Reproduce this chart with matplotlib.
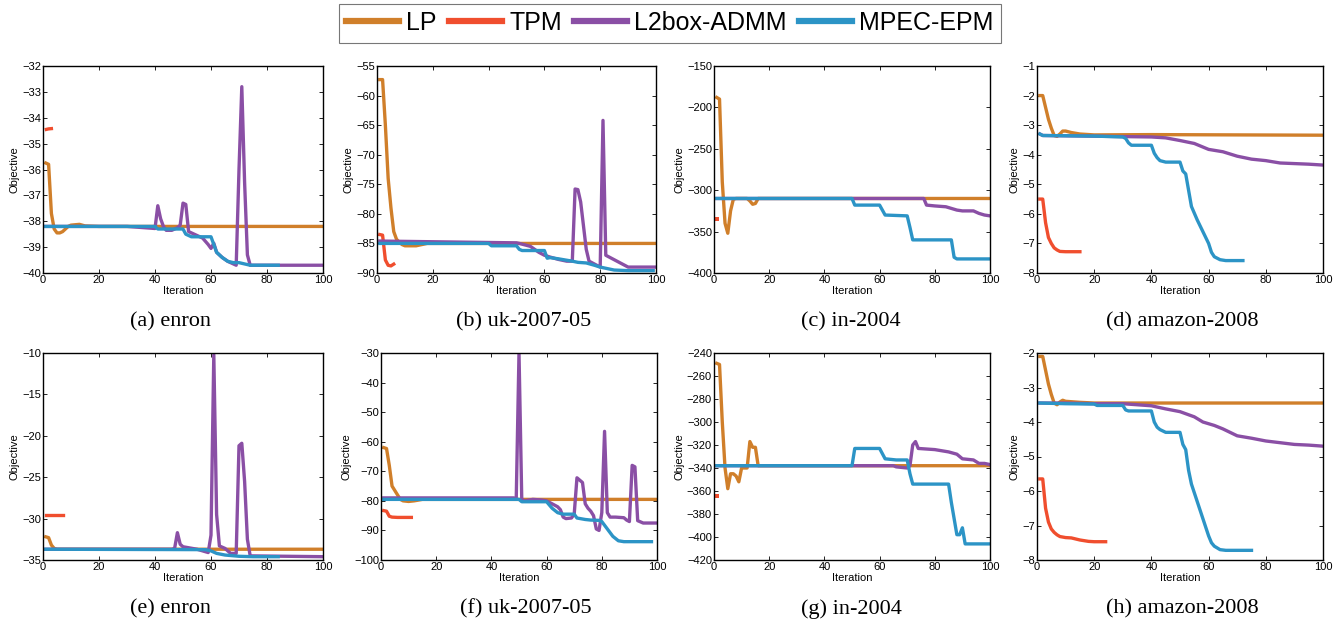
import matplotlib
matplotlib.use("Agg")
import matplotlib.pyplot as plt
from matplotlib.lines import Line2D

plt.rcParams['font.family'] = ['Liberation Sans', 'DejaVu Sans']

# ---------------- data ----------------
series_names = ["LP", "TPM", "L2box-ADMM", "MPEC-EPM"]
series_colors = ["#D07F2A", "#F04E2E", "#8A4FA5", "#2C94C6"]
captions = ["(a) enron", "(b) uk-2007-05", "(c) in-2004", "(d) amazon-2008",
            "(e) enron", "(f) uk-2007-05", "(g) in-2004", "(h) amazon-2008"]
ylims = [(-40, -32), (-90, -55), (-400, -150), (-8, -1),
         (-35, -10), (-100, -30), (-420, -240), (-8, -2)]
xticks = [0, 20, 40, 60, 80, 100]

# (a) enron
a_lp_x = [1, 2, 3, 4, 5, 6, 7, 8, 9, 10, 13, 15, 20, 100]
a_lp_y = [-35.75, -35.8, -37.7, -38.3, -38.45, -38.45, -38.4, -38.3, -38.2, -38.15, -38.12, -38.18, -38.2, -38.2]
a_tpm_x = [1.2, 2, 3]
a_tpm_y = [-34.45, -34.43, -34.42]
a_l2_x = [1, 30, 40, 41, 42, 43, 44, 46, 48, 49, 50, 51, 52, 53, 55, 57, 59, 60, 61, 62, 64, 66, 68, 69, 70, 71, 72, 73, 74, 100]
a_l2_y = [-38.2, -38.2, -38.28, -37.4, -37.9, -38.2, -38.35, -38.35, -38.25, -38.15, -37.3, -37.35, -38.4, -38.45, -38.55, -38.65, -38.9, -39.05, -38.85, -39.2, -39.4, -39.55, -39.65, -39.7, -36.0, -32.8, -36.5, -39.3, -39.7, -39.7]
a_mp_x = [1, 40, 41, 50, 51, 52, 53, 60, 61, 62, 64, 66, 68, 70, 72, 74, 84]
a_mp_y = [-38.2, -38.2, -38.3, -38.3, -38.5, -38.55, -38.6, -38.6, -38.9, -39.2, -39.4, -39.55, -39.6, -39.6, -39.65, -39.7, -39.7]

# (b) uk-2007-05
b_lp_x = [1, 2, 3, 4, 5, 6, 7, 8, 9, 10, 12, 14, 16, 18, 100]
b_lp_y = [-57.3, -57.3, -65, -74, -79, -83, -84.3, -84.8, -85.2, -85.4, -85.4, -85.4, -85.2, -85.0, -85.0]
b_tpm_x = [1, 2, 3, 4, 5, 6]
b_tpm_y = [-83.5, -83.6, -87.8, -88.7, -88.8, -88.5]
b_l2_x = [1, 50, 51, 55, 58, 60, 62, 65, 68, 70, 71, 72, 73, 74, 75, 76, 78, 80, 81, 82, 84, 86, 88, 90, 100]
b_l2_y = [-84.6, -84.9, -85.0, -85.5, -86.5, -87.0, -87.3, -87.7, -88.0, -88.0, -75.8, -75.9, -78, -82, -86, -88.0, -88.5, -89.0, -64.2, -87.0, -87.5, -88.0, -88.5, -89.0, -89.0]
b_mp_x = [1, 40, 41, 50, 51, 52, 60, 61, 62, 65, 70, 72, 75, 78, 80, 83, 85, 90, 99]
b_mp_y = [-85.0, -85.0, -85.4, -85.4, -86.0, -86.2, -86.2, -87.5, -87.4, -87.6, -88.0, -88.2, -88.3, -88.7, -89.0, -89.3, -89.5, -89.6, -89.6]

# (c) in-2004
c_lp_x = [1, 2, 3, 4, 5, 6, 7, 8, 12, 13, 14, 15, 16, 100]
c_lp_y = [-188, -190, -290, -340, -352, -325, -311, -310, -310, -313, -317, -316, -310, -310]
c_tpm_x = [1]
c_tpm_y = [-335]
c_l2_x = [1, 76, 77, 80, 84, 86, 88, 90, 94, 96, 98, 100]
c_l2_y = [-310, -310, -318, -319, -320, -322, -324, -325, -325, -328, -330, -331]
c_mp_x = [1, 50, 51, 60, 62, 70, 71, 72, 86, 87, 88, 100]
c_mp_y = [-310, -310, -318, -318, -330, -331, -345, -360, -360, -381, -383, -383]

# (d) amazon-2008
d_lp_x = [1, 2, 3, 4, 5, 6, 7, 8, 9, 10, 12, 15, 20, 40, 100]
d_lp_y = [-2.0, -2.0, -2.4, -2.8, -3.1, -3.35, -3.38, -3.3, -3.2, -3.2, -3.25, -3.3, -3.33, -3.32, -3.34]
d_tpm_x = [1, 2, 3, 4, 5, 6, 7, 8, 10, 15]
d_tpm_y = [-5.5, -5.5, -6.3, -6.8, -7.0, -7.15, -7.22, -7.27, -7.28, -7.28]
d_l2_x = [1, 2, 40, 45, 50, 55, 60, 65, 70, 75, 80, 85, 90, 95, 100]
d_l2_y = [-3.3, -3.35, -3.4, -3.43, -3.52, -3.62, -3.82, -3.9, -4.05, -4.15, -4.2, -4.28, -4.3, -4.32, -4.35]
d_mp_x = [1, 2, 20, 30, 31, 32, 33, 40, 41, 42, 43, 45, 50, 51, 52, 53, 54, 56, 58, 60, 61, 62, 64, 66, 72]
d_mp_y = [-3.3, -3.35, -3.37, -3.4, -3.45, -3.6, -3.68, -3.68, -3.95, -4.1, -4.2, -4.25, -4.25, -4.55, -4.65, -5.2, -5.75, -6.2, -6.6, -7.0, -7.3, -7.45, -7.55, -7.58, -7.58]

# (e) enron
e_lp_x = [1, 2, 3, 4, 5, 100]
e_lp_y = [-32.2, -32.3, -33.2, -33.6, -33.7, -33.7]
e_tpm_x = [1, 7]
e_tpm_y = [-29.6, -29.6]
e_l2_x = [1, 46, 47, 48, 49, 50, 55, 59, 60, 61, 62, 63, 65, 67, 69, 70, 71, 72, 73, 74, 100]
e_l2_y = [-33.7, -33.7, -33.6, -31.7, -33.1, -33.4, -33.7, -34.1, -32.0, -10.2, -29.5, -33.3, -33.6, -34.2, -34.2, -21.2, -20.9, -25.5, -32.5, -34.5, -34.6]
e_mp_x = [1, 58, 60, 62, 65, 70, 75, 84]
e_mp_y = [-33.7, -33.75, -33.9, -34.2, -34.4, -34.55, -34.6, -34.6]

# (f) uk-2007-05
f_lp_x = [1, 2, 3, 4, 5, 6, 7, 8, 10, 12, 15, 100]
f_lp_y = [-62, -62.3, -68, -75, -76.5, -78, -79.5, -80, -80.2, -80, -79.5, -79.5]
f_tpm_x = [1, 2, 3, 4, 6, 11]
f_tpm_y = [-83.3, -83.5, -85.2, -85.5, -85.6, -85.6]
f_l2_x = [1, 48, 49, 50, 51, 52, 55, 58, 60, 62, 64, 65, 66, 67, 69, 70, 71, 72, 73, 74, 75, 76, 77, 78, 79, 80, 81, 82, 83, 85, 88, 89, 90, 91, 92, 93, 95, 100]
f_l2_y = [-79, -79, -79.2, -30, -79.5, -80, -79.5, -79.7, -80, -81, -82, -83, -85.5, -86, -85.8, -84.5, -72.2, -73.0, -73.8, -81, -82.5, -83.5, -85, -89.5, -90, -84, -56.5, -84, -85.5, -85.5, -85.7, -86.5, -87, -68, -68.5, -86.7, -87.5, -87.5]
f_mp_x = [1, 50, 51, 60, 62, 64, 66, 70, 71, 74, 76, 79, 80, 82, 84, 86, 88, 98]
f_mp_y = [-79.5, -79.5, -80.3, -80.3, -82.5, -84, -84.5, -84.5, -85.8, -86.3, -86.5, -86.6, -87, -89.5, -92, -93.5, -93.8, -93.8]

# (g) in-2004
g_lp_x = [1, 2, 3, 4, 5, 6, 7, 8, 9, 10, 12, 13, 14, 15, 16, 100]
g_lp_y = [-249, -250, -300, -340, -358, -345, -345, -347, -352, -340, -340, -317, -322, -322, -338, -338]
g_tpm_x = [1]
g_tpm_y = [-364]
g_l2_x = [1, 65, 66, 70, 71, 72, 73, 74, 80, 85, 88, 90, 94, 96, 98, 100]
g_l2_y = [-338, -338, -339, -340, -338, -320, -317, -323, -324, -326, -328, -332, -333, -336, -336, -337]
g_mp_x = [1, 50, 51, 60, 62, 66, 70, 71, 72, 85, 86, 88, 89, 90, 91, 100]
g_mp_y = [-338, -338, -323, -323, -332, -333, -333, -345, -354, -354, -370, -398, -398, -392, -406, -406]

# (h) amazon-2008
h_lp_x = [1, 2, 3, 4, 5, 6, 7, 8, 9, 10, 15, 20, 100]
h_lp_y = [-2.1, -2.1, -2.5, -2.9, -3.2, -3.45, -3.5, -3.42, -3.37, -3.4, -3.43, -3.45, -3.45]
h_tpm_x = [1, 2, 3, 4, 5, 6, 7, 8, 10, 12, 15, 18, 20, 24]
h_tpm_y = [-5.65, -5.65, -6.5, -6.9, -7.1, -7.2, -7.27, -7.32, -7.35, -7.36, -7.42, -7.46, -7.47, -7.47]
h_l2_x = [1, 10, 20, 30, 35, 40, 45, 50, 55, 58, 62, 65, 70, 75, 80, 85, 90, 95, 100]
h_l2_y = [-3.45, -3.45, -3.47, -3.47, -3.5, -3.53, -3.62, -3.7, -3.85, -4.0, -4.1, -4.2, -4.4, -4.47, -4.55, -4.6, -4.65, -4.67, -4.7]
h_mp_x = [1, 10, 20, 21, 30, 31, 32, 40, 41, 42, 43, 45, 50, 51, 52, 53, 54, 56, 58, 60, 61, 62, 64, 66, 75]
h_mp_y = [-3.45, -3.47, -3.48, -3.52, -3.52, -3.65, -3.68, -3.68, -4.0, -4.15, -4.22, -4.3, -4.3, -4.65, -4.8, -5.4, -5.8, -6.3, -6.8, -7.3, -7.5, -7.6, -7.7, -7.72, -7.72]

panels = [
    [(a_lp_x, a_lp_y), (a_tpm_x, a_tpm_y), (a_l2_x, a_l2_y), (a_mp_x, a_mp_y)],
    [(b_lp_x, b_lp_y), (b_tpm_x, b_tpm_y), (b_l2_x, b_l2_y), (b_mp_x, b_mp_y)],
    [(c_lp_x, c_lp_y), (c_tpm_x, c_tpm_y), (c_l2_x, c_l2_y), (c_mp_x, c_mp_y)],
    [(d_lp_x, d_lp_y), (d_tpm_x, d_tpm_y), (d_l2_x, d_l2_y), (d_mp_x, d_mp_y)],
    [(e_lp_x, e_lp_y), (e_tpm_x, e_tpm_y), (e_l2_x, e_l2_y), (e_mp_x, e_mp_y)],
    [(f_lp_x, f_lp_y), (f_tpm_x, f_tpm_y), (f_l2_x, f_l2_y), (f_mp_x, f_mp_y)],
    [(g_lp_x, g_lp_y), (g_tpm_x, g_tpm_y), (g_l2_x, g_l2_y), (g_mp_x, g_mp_y)],
    [(h_lp_x, h_lp_y), (h_tpm_x, h_tpm_y), (h_l2_x, h_l2_y), (h_mp_x, h_mp_y)],
]

# ---------------- layout ----------------
W, H = 1343, 627
fig = plt.figure(figsize=(W / 100, H / 100), dpi=100)

# pixel boxes (left, right, top, bottom)
col_px = [(43, 323), (377, 656), (714, 990), (1037, 1323)]
col_px_bottom = [(43, 323), (381, 657), (714, 990), (1037, 1323)]
row_px = [(66, 273), (353, 560)]
caption_y = [322, 609]
caption_x = [[170, 524, 851, 1182], [170, 526, 851, 1182]]

for i, data in enumerate(panels):
    r, c = divmod(i, 4)
    l, rr = (col_px if r == 0 else col_px_bottom)[c]
    t, b = row_px[r]
    ax = fig.add_axes([l / W, 1 - b / H, (rr - l) / W, (b - t) / H])
    for (xs, ys), col in zip(data, series_colors):
        if len(xs) == 1:
            ax.plot(xs, ys, 's', color=col, markersize=2.4, markeredgewidth=0)
        else:
            ax.plot(xs, ys, '-', color=col, lw=2.4, solid_joinstyle='round')
    ax.set_xlim(0, 100)
    ax.set_ylim(*ylims[i])
    ax.set_xticks(xticks)
    ax.tick_params(direction='in', top=True, right=True, labelsize=8, length=3,
                   width=0.6, pad=1.5)
    for s in ax.spines.values():
        s.set_linewidth(1.0)
    ax.set_xlabel("Iteration", fontsize=8, labelpad=1)
    ax.set_ylabel("Objective", fontsize=8, labelpad=2)
    fig.text(caption_x[r][c] / W, 1 - caption_y[r] / H, captions[i],
             ha='center', va='center', fontsize=16,
             family=['Liberation Serif', 'DejaVu Serif'])

handles = [Line2D([0], [0], color=col, lw=4.5) for col in series_colors]
leg = fig.legend(handles, series_names, loc='center', ncol=4,
                 bbox_to_anchor=(670 / W, 1 - 23 / H), fontsize=18,
                 frameon=True, fancybox=False, handlelength=2.1,
                 handletextpad=0.3, columnspacing=0.5, borderpad=0.3,
                 borderaxespad=0)
leg.get_frame().set_edgecolor('#555555')
leg.get_frame().set_linewidth(0.8)

fig.savefig("out.png", dpi=100)
